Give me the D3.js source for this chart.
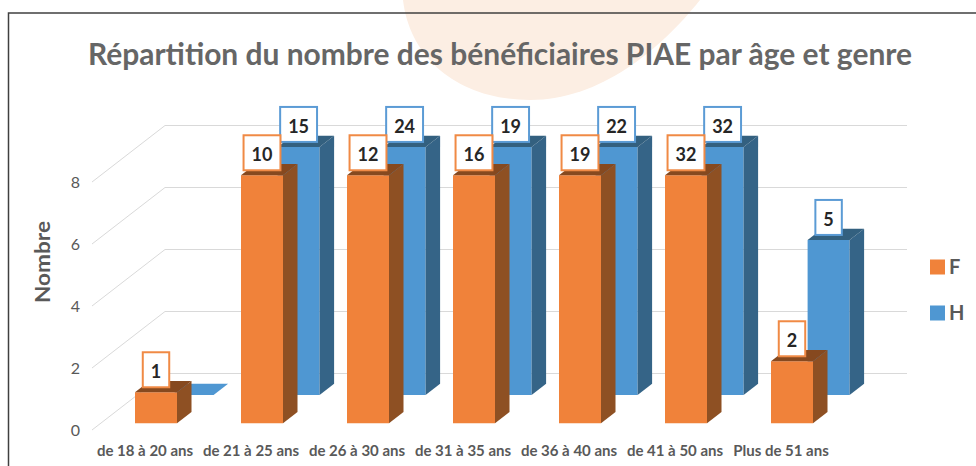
<!DOCTYPE html>
<html>
<head>
<meta charset="utf-8">
<script src="https://d3js.org/d3.v7.min.js"></script>
<style>
  body { margin: 0; background: #fff; }
  svg { display: block; }
  text { font-family: Lato, "Open Sans", sans-serif; }
</style>
</head>
<body>
<svg id="chart" width="976" height="466"></svg>
<script>
// data
var categories = ["de 18 à 20 ans", "de 21 à 25 ans", "de 26 à 30 ans", "de 31 à 35 ans",
                  "de 36 à 40 ans", "de 41 à 50 ans", "Plus de 51 ans"];
var valuesF = [1, 10, 12, 16, 19, 32, 2];
var valuesH = [0, 15, 24, 19, 22, 32, 5];
var seriesNames = ["F", "H"];
var yTicks = [0, 2, 4, 6, 8];

var svg = d3.select("#chart");
var yMax = 8;

var x = d3.scaleBand().domain(categories).range([92, 834]);
var y = d3.scaleLinear().domain([0, yMax]).range([430, 182]);

// oblique 3d projection: z is depth in px along x
var wallDepth = 73;
var slope = 56.5 / 73;
function proj(px, v, z) { return [px + z, y(v) - z * slope]; }

var faceOffset = 34.3, faceWidth = 42, barDepth = 14.5;
var rows = [
    { name: "H", values: valuesH, z: 45.3, front: "#4F97D2", side: "#356487", top: "#33607f", box: "#5B9BD5" },
    { name: "F", values: valuesF, z: 8.7, front: "#F0823A", side: "#8E5023", top: "#86491f", box: "#F08A45" }
];

// faint background shape behind the title
svg.append("path")
    .attr("d", "M403,0 C410,60 460,100 530,100 C600,100 660,50 700,0 Z")
    .attr("fill", "#FCEEE3");

// chart border
svg.append("rect")
    .attr("x", 8.5).attr("y", 13)
    .attr("width", 1000).attr("height", 500)
    .attr("fill", "none")
    .attr("stroke", "#404040")
    .attr("stroke-width", 1.5);

// title
svg.append("text")
    .attr("x", 500).attr("y", 65)
    .attr("text-anchor", "middle")
    .attr("textLength", 824)
    .attr("lengthAdjust", "spacingAndGlyphs")
    .style("font-size", "30px")
    .style("font-weight", "bold")
    .attr("fill", "#666666")
    .text("Répartition du nombre des bénéficiaires PIAE par âge et genre");

// gridlines: floor diagonal + back wall
var x0 = x.range()[0], x1 = x.range()[1];
svg.append("g").selectAll("path")
    .data(yTicks)
    .join("path")
    .attr("d", function (v) {
        var a = proj(x0, v, 0), b = proj(x0, v, wallDepth), c = proj(x1, v, wallDepth);
        return "M" + a + "L" + b + "L" + c;
    })
    .attr("fill", "none")
    .attr("stroke", "#D9D9D9")
    .attr("stroke-width", 1);

// y axis
var yAxis = svg.append("g")
    .attr("transform", "translate(84,0)")
    .call(d3.axisLeft(y).tickValues(yTicks).tickSize(0).tickPadding(4));
yAxis.select(".domain").remove();
yAxis.selectAll("text")
    .style("font-family", "Lato, 'Open Sans', sans-serif")
    .style("font-size", "16px")
    .attr("fill", "#595959");

svg.append("text")
    .attr("transform", "translate(50,262) rotate(-90)")
    .attr("text-anchor", "middle")
    .attr("textLength", 82)
    .attr("lengthAdjust", "spacingAndGlyphs")
    .style("font-size", "20px")
    .style("font-weight", "bold")
    .attr("fill", "#595959")
    .text("Nombre");

// x axis labels
var xAxis = svg.append("g")
    .attr("transform", "translate(0,439)")
    .call(d3.axisBottom(x).tickSize(0).tickPadding(6));
xAxis.select(".domain").remove();
xAxis.selectAll("text")
    .style("font-family", "Lato, 'Open Sans', sans-serif")
    .style("font-size", "15px")
    .style("font-weight", "bold")
    .attr("fill", "#595959");

function pts(list) { return list.map(function (p) { return p.join(","); }).join(" "); }

// bars, back row first
rows.forEach(function (row) {
    var g = svg.append("g").attr("class", "row-" + row.name);
    categories.forEach(function (cat, i) {
        var v = Math.min(row.values[i], yMax);
        var a = x(cat) + faceOffset, b = a + faceWidth, z = row.z, z2 = row.z + barDepth;
        if (v > 0) {
            g.append("polygon")
                .attr("points", pts([proj(a, 0, z), proj(b, 0, z), proj(b, v, z), proj(a, v, z)]))
                .attr("fill", row.front);
            g.append("polygon")
                .attr("points", pts([proj(b, 0, z), proj(b, 0, z2), proj(b, v, z2), proj(b, v, z)]))
                .attr("fill", row.side);
        }
        g.append("polygon")
            .attr("points", pts([proj(a, v, z), proj(b, v, z), proj(b, v, z2), proj(a, v, z2)]))
            .attr("fill", v > 0 ? row.top : row.front);
    });
});

// data labels
rows.forEach(function (row) {
    var g = svg.append("g").attr("class", "labels-" + row.name);
    categories.forEach(function (cat, i) {
        if (row.values[i] === 0) return;
        var v = Math.min(row.values[i], yMax);
        var a = x(cat) + faceOffset;
        var cx = proj(a + faceWidth / 2, v, row.z)[0];
        var bottom = proj(a, v, row.z)[1] - 5;
        var lab = g.append("g");
        var box = lab.append("rect");
        var t = lab.append("text")
            .attr("x", cx).attr("y", bottom - 9)
            .attr("text-anchor", "middle")
            .style("font-size", "18px")
            .style("font-weight", "bold")
            .attr("fill", "#262626")
            .text(row.values[i]);
        var w = t.node().getComputedTextLength() + 16;
        box.attr("x", cx - w / 2).attr("y", bottom - 35)
            .attr("width", w).attr("height", 35)
            .attr("fill", "#fff")
            .attr("stroke", row.box)
            .attr("stroke-width", 2);
    });
});

// legend
var legend = svg.append("g").selectAll("g")
    .data(seriesNames)
    .join("g")
    .attr("transform", function (d, i) { return "translate(930," + (259.5 + i * 46) + ")"; });
legend.append("rect")
    .attr("width", 15).attr("height", 15)
    .attr("fill", function (d) { return d === "F" ? "#F0823A" : "#4F97D2"; });
legend.append("text")
    .attr("x", 19).attr("y", 14.5)
    .style("font-size", "20px")
    .style("font-weight", "bold")
    .attr("fill", "#595959")
    .text(function (d) { return d; });
</script>
</body>
</html>
